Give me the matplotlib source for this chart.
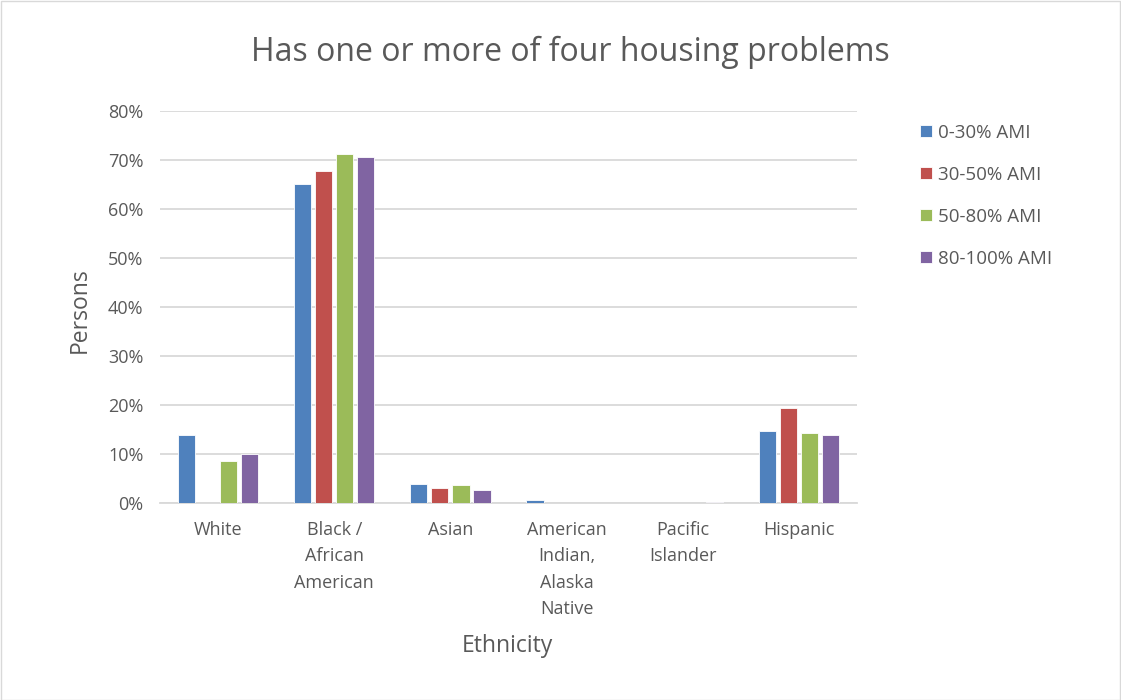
import matplotlib
matplotlib.use("Agg")
import matplotlib.pyplot as plt
import numpy as np
from matplotlib.patches import Rectangle

categories = ["White", "Black /\nAfrican\nAmerican", "Asian", "American\nIndian,\nAlaska\nNative", "Pacific\nIslander", "Hispanic"]
series_names = ["0-30% AMI", "30-50% AMI", "50-80% AMI", "80-100% AMI"]
ami_0_30 = [0.139, 0.651, 0.039, 0.006, 0.0, 0.146]
ami_30_50 = [0.0, 0.678, 0.031, 0.0, 0.0, 0.194]
ami_50_80 = [0.085, 0.713, 0.037, 0.001, 0.0, 0.142]
ami_80_100 = [0.101, 0.706, 0.026, 0.0, 0.003, 0.138]
yticks = [0, 0.1, 0.2, 0.3, 0.4, 0.5, 0.6, 0.7, 0.8]
ytick_labels = ["0%", "10%", "20%", "30%", "40%", "50%", "60%", "70%", "80%"]

colors = ["#4F81BD", "#C0504D", "#9BBB59", "#8064A2"]
text_color = "#595959"
plt.rcParams['font.family'] = ['Open Sans', 'DejaVu Sans']

W, H = 1121, 700
fig = plt.figure(figsize=(W/100, H/100), dpi=100)
fig.patch.set_facecolor("white")
fig.add_artist(Rectangle((0.5/W, 0.5/H), 1-1.5/W, 1-1.5/H, transform=fig.transFigure,
                         fill=False, edgecolor="#d9d9d9", linewidth=1))

left, right, bottom, top = 160, 857, 503, 111
ax = fig.add_axes([left/W, 1-bottom/H, (right-left)/W, (bottom-top)/H])

x = np.arange(len(categories))
step = 0.181
width = 0.148
all_series = [ami_0_30, ami_30_50, ami_50_80, ami_80_100]
for i, (vals, c, name) in enumerate(zip(all_series, colors, series_names)):
    ax.bar(x + (i-1.5)*step, vals, width=width, color=c, label=name,
           edgecolor="white", linewidth=0.6, zorder=3)

ax.set_xlim(-0.5, len(categories)-0.5)
ax.set_ylim(0, 0.8)
ax.set_yticks(yticks)
ax.set_yticklabels(ytick_labels)
ax.set_xticks(x)
ax.set_xticklabels(categories, va="top", linespacing=1.6)
ax.tick_params(axis="both", length=0, colors=text_color, labelsize=13)
ax.tick_params(axis="x", pad=13)
ax.tick_params(axis="y", pad=12)
ax.grid(axis="y", color="#d9d9d9", linewidth=1.3, zorder=0)
for s in ["top", "right", "left"]:
    ax.spines[s].set_visible(False)
ax.spines["bottom"].set_color("#d9d9d9")
ax.spines["bottom"].set_linewidth(1.3)

fig.text(570/W, 1-52/H, "Has one or more of four housing problems", ha="center", va="center",
         fontsize=23, color=text_color)
fig.text(507/W, 1-646/H, "Ethnicity", ha="center", va="center", fontsize=16.5, color=text_color)
fig.text(80/W, 1-310/H, "Persons", ha="center", va="center", rotation=90, fontsize=16.5, color=text_color)

leg = fig.legend(loc="upper left", bbox_to_anchor=(903/W, 1-107/H), frameon=False,
                 fontsize=13.5, labelcolor=text_color, handlelength=0.62, handleheight=0.62,
                 handletextpad=0.35, labelspacing=1.28)

fig.savefig("out.png", dpi=100)
